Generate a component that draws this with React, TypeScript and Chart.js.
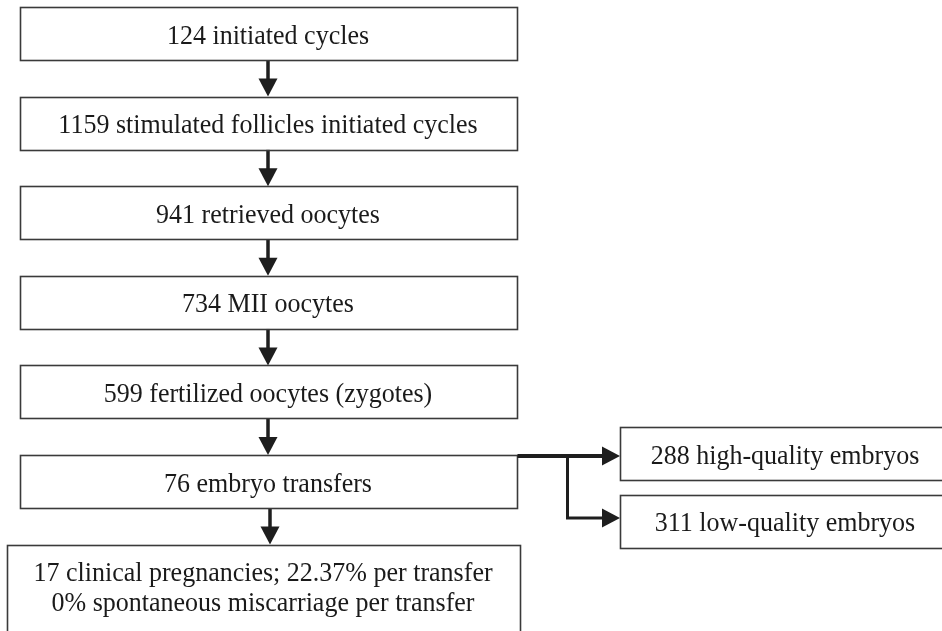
import React, { useEffect, useRef } from 'react';
import { Chart, registerables } from 'chart.js';

Chart.register(...registerables);

// ---- data ----
const stepCounts = [124, 1159, 941, 734, 599, 76, 17];
const stepLabels = [
  'initiated cycles',
  'stimulated follicles initiated cycles',
  'retrieved oocytes',
  'MII oocytes',
  'fertilized oocytes (zygotes)',
  'embryo transfers',
  'clinical pregnancies',
];
const pregnancyRatePerTransfer = '22.37%';
const miscarriageRatePerTransfer = '0%';
const embryoCounts = [288, 311];
const embryoLabels = ['high-quality embryos', 'low-quality embryos'];
const branchFromStep = 5;

// ---- layout / style (not data) ----
const STYLE = {
  font: '26px "Liberation Serif", "Times New Roman", serif',
  textStretchY: 1.07,
  text: '#1a1a1a',
  border: '#3a3a3a',
  arrow: '#1e1e1e',
  boxW: 497,
  boxH: 53,
  lastBoxExtraLeft: 13,
  lastBoxH: 120,
  sideBoxW: 330,
  sideBoxH: 53,
  headW: 19,
  headL: 18,
  branchOffsets: [-0.3125, 0.446],
  branchJog: 50,
};

function stepText(i: number): string[] {
  if (i === stepCounts.length - 1) {
    return [
      `${stepCounts[i]} ${stepLabels[i]}; ${pregnancyRatePerTransfer} per transfer`,
      `${miscarriageRatePerTransfer} spontaneous miscarriage per transfer`,
    ];
  }
  return [`${stepCounts[i]} ${stepLabels[i]}`];
}

function drawText(ctx: CanvasRenderingContext2D, s: string, x: number, y: number) {
  ctx.save();
  ctx.translate(x, y);
  ctx.scale(1, STYLE.textStretchY);
  ctx.fillStyle = STYLE.text;
  ctx.font = STYLE.font;
  ctx.textAlign = 'center';
  ctx.textBaseline = 'alphabetic';
  ctx.fillText(s, 0, 0);
  ctx.restore();
}

function arrowHead(ctx: CanvasRenderingContext2D, tipX: number, tipY: number, dir: 'down' | 'right') {
  const w = STYLE.headW / 2;
  const l = STYLE.headL;
  ctx.beginPath();
  if (dir === 'down') {
    ctx.moveTo(tipX, tipY);
    ctx.lineTo(tipX - w, tipY - l);
    ctx.lineTo(tipX + w, tipY - l);
  } else {
    ctx.moveTo(tipX, tipY);
    ctx.lineTo(tipX - l, tipY - w);
    ctx.lineTo(tipX - l, tipY + w);
  }
  ctx.closePath();
  ctx.fill();
}

function drawBox(ctx: CanvasRenderingContext2D, left: number, top: number, w: number, h: number) {
  ctx.fillStyle = '#ffffff';
  ctx.fillRect(left, top, w, h);
  ctx.strokeStyle = STYLE.border;
  ctx.lineWidth = 1.6;
  ctx.strokeRect(Math.round(left) + 0.5, Math.round(top) + 0.5, Math.round(w), Math.round(h));
}

const flowPlugin = {
  id: 'flowchart',
  afterDatasetsDraw(chart: any) {
    const ctx: CanvasRenderingContext2D = chart.ctx;
    const steps = chart.getDatasetMeta(0).data;
    const side = chart.getDatasetMeta(1).data;
    const n = steps.length;
    ctx.save();

    // vertical arrows
    ctx.fillStyle = STYLE.arrow;
    ctx.strokeStyle = STYLE.arrow;
    for (let i = 0; i < n - 1; i++) {
      const x = steps[i].x + (i === n - 2 ? 2 : 0);
      const y0 = steps[i].y + STYLE.boxH / 2;
      const y1 = steps[i + 1].y - STYLE.boxH / 2;
      ctx.lineWidth = 3.5;
      ctx.beginPath();
      ctx.moveTo(x, y0);
      ctx.lineTo(x, y1 - STYLE.headL + 2);
      ctx.stroke();
      arrowHead(ctx, x, y1, 'down');
    }

    // boxes and text
    for (let i = 0; i < n; i++) {
      const last = i === n - 1;
      const cx = steps[i].x;
      const cy = steps[i].y;
      const left = cx - STYLE.boxW / 2 - (last ? STYLE.lastBoxExtraLeft : 0);
      const w = STYLE.boxW + (last ? STYLE.lastBoxExtraLeft + 3 : 0);
      const top = cy - STYLE.boxH / 2;
      const h = last ? STYLE.lastBoxH : STYLE.boxH;
      drawBox(ctx, left, top, w, h);
      const lines = stepText(i);
      if (lines.length === 1) {
        drawText(ctx, lines[0], cx, cy + 10);
      } else {
        const tx = left + w / 2;
        drawText(ctx, lines[0], tx, top + 36);
        drawText(ctx, lines[1], tx, top + 66);
      }
    }

    // branch arrows to embryo boxes
    const src = steps[branchFromStep];
    const startX = src.x + STYLE.boxW / 2 + 1;
    const targetLeft = side[0].x - STYLE.sideBoxW / 2;
    const jogX = startX + STYLE.branchJog;
    const yA = side[0].y + 2.5;
    const yB = side[1].y - 3.5;
    ctx.fillStyle = STYLE.arrow;
    ctx.strokeStyle = STYLE.arrow;
    ctx.lineWidth = 4;
    ctx.beginPath();
    ctx.moveTo(startX, yA);
    ctx.lineTo(targetLeft - STYLE.headL + 2, yA);
    ctx.stroke();
    ctx.lineWidth = 3;
    ctx.beginPath();
    ctx.moveTo(jogX, yA);
    ctx.lineTo(jogX, yB);
    ctx.lineTo(targetLeft - STYLE.headL + 2, yB);
    ctx.stroke();
    arrowHead(ctx, targetLeft, yA, 'right');
    arrowHead(ctx, targetLeft, yB, 'right');

    for (let j = 0; j < side.length; j++) {
      const cx = side[j].x;
      const cy = side[j].y;
      drawBox(ctx, cx - STYLE.sideBoxW / 2, cy - STYLE.sideBoxH / 2, STYLE.sideBoxW, STYLE.sideBoxH);
      drawText(ctx, `${embryoCounts[j]} ${embryoLabels[j]}`, cx, cy + 10);
    }
    ctx.restore();
  },
};

export default function App() {
  const canvasRef = useRef<HTMLCanvasElement | null>(null);

  useEffect(() => {
    document.body.style.margin = '0';
    const canvas = canvasRef.current;
    if (!canvas) return;
    const stepPoints = stepCounts.map((_, i) => ({ x: 0, y: i }));
    const embryoPoints = embryoCounts.map((_, j) => ({ x: 1, y: branchFromStep + STYLE.branchOffsets[j] }));
    const chart = new Chart(canvas, {
      type: 'scatter',
      data: {
        datasets: [
          { label: 'steps', data: stepPoints, pointRadius: 0, showLine: false },
          { label: 'embryos', data: embryoPoints, pointRadius: 0, showLine: false },
        ],
      },
      options: {
        animation: false,
        responsive: false,
        events: [],
        layout: { padding: 0 },
        plugins: { legend: { display: false }, tooltip: { enabled: false } },
        scales: {
          x: { type: 'linear', display: false, min: -268 / 517, max: 674 / 517 },
          y: { type: 'linear', display: false, reverse: true, min: -33.5 / 89.6, max: (631 - 33.5) / 89.6 },
        },
      },
      plugins: [flowPlugin],
    });
    return () => chart.destroy();
  }, []);

  return (
    <div style={{ position: 'absolute', left: 0, top: 0, width: 942, height: 631, background: '#fff' }}>
      <canvas ref={canvasRef} width={942} height={631} style={{ display: 'block' }} />
    </div>
  );
}
